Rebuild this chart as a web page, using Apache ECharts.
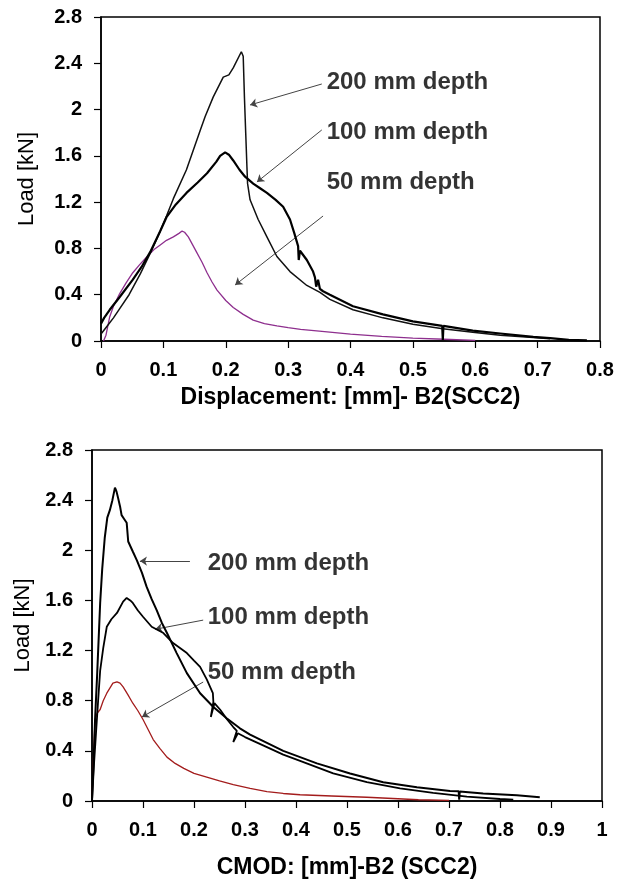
<!DOCTYPE html>
<html>
<head>
<meta charset="utf-8">
<script src="https://cdn.jsdelivr.net/npm/echarts@6/dist/echarts.min.js"></script>
<style>
  html, body { margin: 0; padding: 0; background: #fff; }
  #chart { width: 630px; height: 882px; }
</style>
</head>
<body>
<div id="chart"></div>
<script>
// tick labels
const xTicksTop = [0, 0.1, 0.2, 0.3, 0.4, 0.5, 0.6, 0.7, 0.8];
const xTicksBottom = [0, 0.1, 0.2, 0.3, 0.4, 0.5, 0.6, 0.7, 0.8, 0.9, 1];
const yTicks = [0, 0.4, 0.8, 1.2, 1.6, 2, 2.4, 2.8];

// top chart: load vs displacement [mm, kN]
const disp200 = [
  [0, 0.06], [0.01, 0.13], [0.02, 0.2], [0.03, 0.28], [0.045, 0.4], [0.063, 0.58],
  [0.08, 0.77], [0.095, 0.95], [0.105, 1.08], [0.116, 1.23], [0.137, 1.48], [0.159, 1.82],
  [0.167, 1.94], [0.18, 2.11], [0.196, 2.28], [0.205, 2.3], [0.212, 2.36], [0.225, 2.5],
  [0.228, 2.46], [0.23, 2.1], [0.232, 1.8], [0.234, 1.5], [0.235, 1.36], [0.239, 1.22],
  [0.252, 1.05], [0.266, 0.9], [0.282, 0.73], [0.303, 0.6], [0.33, 0.48], [0.351, 0.42],
  [0.367, 0.36], [0.404, 0.27], [0.452, 0.2], [0.5, 0.145], [0.548, 0.105], [0.596, 0.075],
  [0.64, 0.05], [0.693, 0.03], [0.72, 0.02]
];
const disp100 = [
  [0, 0.15], [0.005, 0.2], [0.014, 0.27], [0.03, 0.38], [0.051, 0.53], [0.065, 0.64],
  [0.079, 0.77], [0.095, 0.95], [0.105, 1.07], [0.12, 1.18], [0.137, 1.28], [0.155, 1.37],
  [0.17, 1.45], [0.185, 1.55], [0.191, 1.6], [0.199, 1.63], [0.205, 1.61], [0.212, 1.56],
  [0.222, 1.48], [0.231, 1.42], [0.244, 1.36], [0.255, 1.32], [0.266, 1.28], [0.28, 1.22],
  [0.292, 1.16], [0.303, 1.05], [0.31, 0.93], [0.316, 0.82], [0.317, 0.7], [0.319, 0.78],
  [0.33, 0.7], [0.34, 0.6], [0.343, 0.55], [0.345, 0.47], [0.348, 0.53], [0.351, 0.45],
  [0.356, 0.43], [0.367, 0.4], [0.404, 0.3], [0.452, 0.23], [0.5, 0.17], [0.547, 0.13],
  [0.548, 0.01], [0.549, 0.13], [0.596, 0.09], [0.64, 0.065], [0.693, 0.035], [0.72, 0.025],
  [0.75, 0.01], [0.779, 0.005]
];
const disp50 = [
  [0.004, 0], [0.008, 0.05], [0.014, 0.21], [0.02, 0.3], [0.03, 0.41], [0.04, 0.5],
  [0.051, 0.59], [0.062, 0.66], [0.074, 0.73], [0.085, 0.79], [0.095, 0.83], [0.105, 0.87],
  [0.116, 0.9], [0.125, 0.93], [0.13, 0.95], [0.134, 0.94], [0.14, 0.9], [0.153, 0.77],
  [0.162, 0.68], [0.17, 0.59], [0.178, 0.51], [0.186, 0.44], [0.2, 0.35], [0.212, 0.29],
  [0.228, 0.23], [0.244, 0.18], [0.262, 0.15], [0.282, 0.13], [0.3, 0.115], [0.32, 0.1],
  [0.35, 0.085], [0.4, 0.06], [0.45, 0.04], [0.5, 0.025], [0.55, 0.015], [0.6, 0.005]
];

// bottom chart: load vs CMOD [mm, kN]
const cmod200 = [
  [0, 0], [0.003, 0.3], [0.006, 0.65], [0.01, 1.0], [0.016, 1.58], [0.02, 1.85],
  [0.025, 2.1], [0.03, 2.26], [0.035, 2.32], [0.04, 2.4], [0.045, 2.5], [0.048, 2.47],
  [0.051, 2.42], [0.055, 2.35], [0.058, 2.28], [0.063, 2.25], [0.068, 2.22], [0.071, 2.07],
  [0.08, 1.99], [0.088, 1.92], [0.098, 1.82], [0.107, 1.71], [0.117, 1.61], [0.127, 1.52],
  [0.137, 1.42], [0.147, 1.34], [0.166, 1.18], [0.186, 1.02], [0.212, 0.86], [0.238, 0.75],
  [0.264, 0.66], [0.29, 0.58], [0.31, 0.53], [0.33, 0.49], [0.375, 0.4], [0.441, 0.3],
  [0.506, 0.22], [0.571, 0.15], [0.637, 0.11], [0.702, 0.08], [0.719, 0.077], [0.72, 0.01],
  [0.721, 0.075], [0.767, 0.06], [0.833, 0.045], [0.878, 0.03]
];
const cmod100 = [
  [0, 0], [0.004, 0.3], [0.008, 0.55], [0.012, 0.8], [0.016, 1.04], [0.022, 1.22],
  [0.029, 1.39], [0.038, 1.45], [0.049, 1.5], [0.061, 1.59], [0.068, 1.62], [0.071, 1.63],
  [0.075, 1.6], [0.08, 1.58], [0.09, 1.52], [0.1, 1.47], [0.117, 1.39], [0.14, 1.34],
  [0.159, 1.26], [0.186, 1.18], [0.2, 1.12], [0.212, 1.07], [0.225, 0.97], [0.237, 0.86],
  [0.238, 0.79], [0.233, 0.67], [0.24, 0.78], [0.251, 0.73], [0.265, 0.65], [0.277, 0.59],
  [0.284, 0.56], [0.277, 0.47], [0.286, 0.54], [0.3, 0.51], [0.343, 0.43], [0.375, 0.37],
  [0.408, 0.32], [0.473, 0.22], [0.539, 0.15], [0.604, 0.1], [0.669, 0.064], [0.735, 0.035],
  [0.8, 0.016], [0.826, 0.01]
];
const cmod50 = [
  [0, 0], [0.003, 0.35], [0.006, 0.65], [0.01, 0.7], [0.016, 0.73], [0.022, 0.8],
  [0.029, 0.86], [0.035, 0.9], [0.041, 0.94], [0.049, 0.95], [0.055, 0.94], [0.061, 0.91],
  [0.07, 0.85], [0.08, 0.78], [0.09, 0.72], [0.1, 0.65], [0.11, 0.57], [0.12, 0.49],
  [0.133, 0.42], [0.147, 0.35], [0.163, 0.3], [0.18, 0.26], [0.2, 0.22], [0.225, 0.19],
  [0.25, 0.16], [0.277, 0.13], [0.31, 0.1], [0.343, 0.075], [0.375, 0.06], [0.408, 0.05],
  [0.47, 0.04], [0.539, 0.03], [0.6, 0.018], [0.64, 0.01], [0.7, 0.005]
];

// annotations (data coordinates)
const notesTop = [
  { name: '200 mm depth', value: [0.361, 2.239] },
  { name: '100 mm depth', value: [0.361, 1.806] },
  { name: '50 mm depth', value: [0.361, 1.374] }
];
const arrowsTop = [
  [[0.354, 2.221], [0.239, 2.04]],
  [[0.354, 1.824], [0.25, 1.374]],
  [[0.356, 1.08], [0.215, 0.484]]
];
const notesBottom = [
  { name: '200 mm depth', value: [0.226, 1.898] },
  { name: '100 mm depth', value: [0.226, 1.462] },
  { name: '50 mm depth', value: [0.226, 1.029] }
];
const arrowsBottom = [
  [[0.192, 1.914], [0.094, 1.914]],
  [[0.218, 1.443], [0.124, 1.37]],
  [[0.218, 0.949], [0.098, 0.67]]
];

const FONT = 'Liberation Sans';

function xAxisFor(ticks, grid, name, gap) {
  return {
    type: 'value', gridIndex: grid,
    min: ticks[0], max: ticks[ticks.length - 1], interval: ticks[1] - ticks[0],
    name: name, nameLocation: 'middle', nameGap: gap,
    nameTextStyle: { fontFamily: FONT, fontSize: 23, fontWeight: 'bold', color: '#000' },
    axisLine: { lineStyle: { color: '#000', width: 1.5 } },
    axisTick: { inside: false, length: 7, lineStyle: { color: '#000', width: 1.2 } },
    axisLabel: { fontFamily: FONT, fontSize: 20, fontWeight: 'bold', color: '#000', margin: 19 },
    splitLine: { show: false }
  };
}

function yAxisFor(grid, gap) {
  return {
    type: 'value', gridIndex: grid,
    min: yTicks[0], max: yTicks[yTicks.length - 1], interval: yTicks[1] - yTicks[0],
    name: 'Load [kN]', nameLocation: 'middle', nameGap: gap, nameRotate: 90,
    nameTextStyle: { fontFamily: FONT, fontSize: 22, color: '#000' },
    axisLine: { show: true, lineStyle: { color: '#000', width: 1.5 } },
    axisTick: { show: true, inside: false, length: 7, lineStyle: { color: '#000', width: 1.2 } },
    axisLabel: { fontFamily: FONT, fontSize: 20, fontWeight: 'bold', color: '#000', margin: 19 },
    splitLine: { show: false }
  };
}

function curve(data, grid, color, width) {
  return {
    type: 'line', xAxisIndex: grid, yAxisIndex: grid, data: data,
    showSymbol: false, symbol: 'none', silent: true, animation: false,
    lineStyle: { color: color, width: width }
  };
}

function arrows(list, grid) {
  return {
    type: 'lines', coordinateSystem: 'cartesian2d', xAxisIndex: grid, yAxisIndex: grid,
    data: list.map(c => ({ coords: c })),
    symbol: ['none', 'arrow'], symbolSize: 7, silent: true, animation: false,
    lineStyle: { color: '#444', width: 1, opacity: 1 }
  };
}

function notes(list, grid) {
  return {
    type: 'scatter', xAxisIndex: grid, yAxisIndex: grid, data: list,
    symbolSize: 1, itemStyle: { color: 'rgba(0,0,0,0)' }, silent: true, animation: false,
    label: {
      show: true, position: 'right', distance: 0, formatter: '{b}',
      fontFamily: FONT, fontSize: 24, fontWeight: 'bold', color: '#000'
    }
  };
}

const chart = echarts.init(document.getElementById('chart'), null, { renderer: 'canvas' });
chart.setOption({
  backgroundColor: '#fff',
  animation: false,
  grid: [
    { left: 101, top: 17, width: 499, height: 324, show: true, borderColor: '#000', borderWidth: 1.5, backgroundColor: 'transparent' },
    { left: 92, top: 450, width: 510, height: 351, show: true, borderColor: '#000', borderWidth: 1.5, backgroundColor: 'transparent' }
  ],
  xAxis: [
    xAxisFor(xTicksTop, 0, 'Displacement: [mm]- B2(SCC2)', 45),
    xAxisFor(xTicksBottom, 1, 'CMOD: [mm]-B2 (SCC2)', 55)
  ],
  yAxis: [yAxisFor(0, 63), yAxisFor(1, 47)],
  series: [
    curve(disp50, 0, '#8e2f8e', 1.3),
    curve(disp200, 0, '#111', 1.5),
    curve(disp100, 0, '#000', 2.2),
    arrows(arrowsTop, 0),
    notes(notesTop, 0),
    curve(cmod50, 1, '#a31c1c', 1.3),
    curve(cmod200, 1, '#000', 2),
    curve(cmod100, 1, '#000', 1.8),
    arrows(arrowsBottom, 1),
    notes(notesBottom, 1)
  ]
});
</script>
</body>
</html>
